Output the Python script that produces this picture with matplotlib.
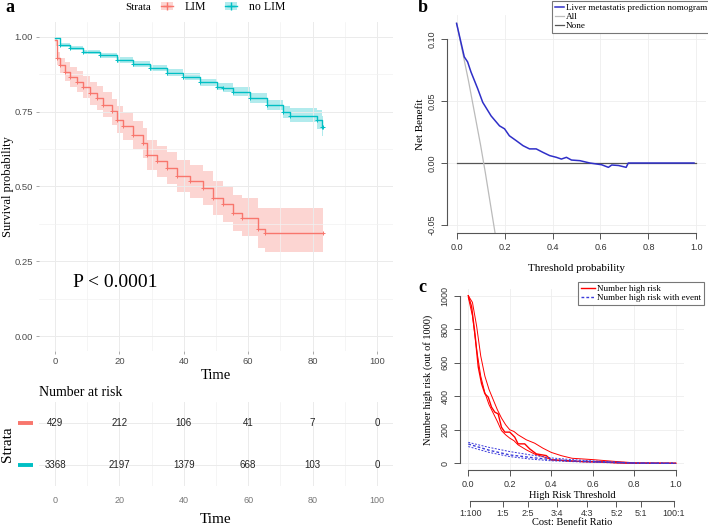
import matplotlib
matplotlib.use('Agg')
import matplotlib.pyplot as plt
from matplotlib.lines import Line2D
from matplotlib.patches import Patch

SERIF = 'Liberation Serif'
SANS = 'Liberation Sans'
RED = '#F8766D'
TEAL = '#00BFC4'

# --- panel a: Kaplan-Meier curves ---
t_lim = [0, 0.5, 1.6, 3.1, 4.7, 6.7, 8.8, 10.9, 12.9, 15, 17.6, 19.2, 21.2, 24.3, 27.4, 28.5,
         31.6, 34.7, 37.8, 41.9, 46.1, 49.2, 52.3, 55.4, 58, 63.1, 65.2, 83.3]
s_lim = [0.99, 0.93, 0.906, 0.884, 0.867, 0.851, 0.834, 0.812, 0.796, 0.773, 0.751, 0.723, 0.701,
         0.673, 0.645, 0.606, 0.584, 0.562, 0.534, 0.518, 0.495, 0.462, 0.440, 0.412, 0.395, 0.357,
         0.345, 0.345]
hi_lim = [1.0, 0.95, 0.93, 0.915, 0.9, 0.886, 0.87, 0.85, 0.836, 0.815, 0.794, 0.768, 0.747, 0.72,
          0.694, 0.657, 0.636, 0.615, 0.588, 0.573, 0.551, 0.52, 0.499, 0.472, 0.462, 0.428, 0.428,
          0.428]
lo_lim = [0.97, 0.905, 0.88, 0.852, 0.833, 0.815, 0.797, 0.773, 0.755, 0.731, 0.707, 0.678, 0.654,
          0.625, 0.596, 0.555, 0.532, 0.508, 0.48, 0.462, 0.438, 0.404, 0.381, 0.352, 0.335, 0.295,
          0.282, 0.282]

t_nolim = [0, 1.6, 4.7, 8.8, 14, 19.2, 24.3, 29.5, 34.7, 39.9, 45, 50.2, 52.3, 55.4, 60.6, 65.7,
           70.9, 73, 81.3, 82.8, 83.3]
s_nolim = [0.996, 0.973, 0.962, 0.951, 0.938, 0.923, 0.909, 0.895, 0.881, 0.867, 0.848, 0.834,
           0.831, 0.817, 0.795, 0.773, 0.748, 0.737, 0.722, 0.700, 0.700]
hi_nolim = [1.0, 0.979, 0.969, 0.958, 0.946, 0.932, 0.919, 0.905, 0.892, 0.878, 0.86, 0.847, 0.845,
            0.832, 0.811, 0.79, 0.768, 0.762, 0.755, 0.735, 0.735]
lo_nolim = [0.992, 0.967, 0.955, 0.944, 0.93, 0.914, 0.899, 0.885, 0.87, 0.856, 0.836, 0.821, 0.817,
            0.802, 0.779, 0.756, 0.728, 0.714, 0.692, 0.668, 0.668]

risk_times = [0, 20, 40, 60, 80, 100]
risk_lim = [429, 212, 106, 41, 7, 0]
risk_nolim = [3368, 2197, 1379, 668, 103, 0]

# --- panel b: decision curve ---
dca_x = [0, 0.032, 0.046, 0.06, 0.088, 0.109, 0.144, 0.179, 0.2, 0.22, 0.249, 0.277, 0.304, 0.332,
         0.36, 0.388, 0.416, 0.437, 0.458, 0.479, 0.514, 0.556, 0.605, 0.633, 0.647, 0.675, 0.707,
         0.716, 0.99]
dca_model = [0.1127, 0.0857, 0.0816, 0.0735, 0.060, 0.049, 0.038, 0.030, 0.0276, 0.022, 0.018,
             0.014, 0.0114, 0.0114, 0.0086, 0.006, 0.0046, 0.0032, 0.0046, 0.0024, 0.0019, 0.0,
             -0.0014, -0.0035, -0.0016, -0.002, -0.0035, 0.0, 0.0]
all_x = [0, 0.05, 0.1, 0.12, 0.16, 0.2]
all_nb = [0.113, 0.066, 0.0145, -0.008, -0.056, -0.11]
none_x = [0, 1]
none_nb = [0, 0]

# --- panel c: clinical impact ---
ci_x = [0, 0.016, 0.032, 0.048, 0.064, 0.08, 0.096, 0.112, 0.128, 0.144, 0.16, 0.176, 0.2, 0.224,
        0.24, 0.272, 0.296, 0.328, 0.376, 0.4, 0.472, 0.552, 0.632, 0.712, 0.79, 1.0]
hr_mid = [1000, 934, 774, 575, 475, 415, 395, 335, 305, 295, 215, 186, 186, 156, 116, 116, 86, 56,
          46, 20, 16, 10, 10, 4, 0, 0]
band_x = [0, 0.02, 0.04, 0.06, 0.08, 0.1, 0.12, 0.14, 0.16, 0.18, 0.2, 0.22, 0.24, 0.28, 0.32,
          0.36, 0.4, 0.45, 0.5, 0.6, 0.7, 0.8, 1.0]
hr_hi = [1000, 960, 820, 640, 520, 440, 380, 320, 270, 230, 200, 190, 170, 140, 120, 90, 65, 45,
         30, 22, 12, 3, 0]
hr_lo = [990, 880, 680, 520, 420, 350, 300, 250, 195, 170, 150, 135, 110, 80, 55, 40, 22, 16, 12,
         8, 3, 0, 0]
ev_x = [0, 0.1, 0.2, 0.3, 0.4, 0.5, 0.6, 0.7, 0.8, 1.0]
ev_mid = [115, 78, 50, 35, 22, 15, 10, 6, 2, 0]
ev_hi = [125, 95, 70, 50, 32, 22, 14, 8, 2, 0]
ev_lo = [100, 65, 40, 25, 15, 10, 6, 3, 0, 0]
cb_labels = ['1:100', '1:5', '2:5', '3:4', '4:3', '5:2', '5:1', '100:1']
cb_pairs = [(1, 100), (1, 5), (2, 5), (3, 4), (4, 3), (5, 2), (5, 1), (100, 1)]

W, H = 708, 526
fig = plt.figure(figsize=(W / 100, H / 100), dpi=100)


def px_axes(x0, y0, x1, y1):
    return fig.add_axes([x0 / W, 1 - y1 / H, (x1 - x0) / W, (y1 - y0) / H])


def r_style(ax):
    # base-R look: only left/bottom axis lines, outward ticks
    for s in ['top', 'right']:
        ax.spines[s].set_visible(False)
    for s in ['left', 'bottom']:
        ax.spines[s].set_color('#555555')
        ax.spines[s].set_linewidth(0.8)
    ax.tick_params(direction='out', length=4, width=0.7, color='#555555',
                   labelsize=6.5, labelcolor='#333333')
    for lab in ax.get_xticklabels() + ax.get_yticklabels():
        lab.set_fontfamily(SANS)
    ax.grid(True, color='#EEEEEE', lw=0.6)
    ax.set_axisbelow(True)


# ---------------- panel a ----------------
ax = px_axes(39, 22, 393, 351)
ax.set_xlim(-5, 105)
ax.set_ylim(-0.05, 1.05)
for s in ax.spines.values():
    s.set_visible(False)
ax.set_xticks(risk_times)
ax.set_xticks([10, 30, 50, 70, 90], minor=True)
ax.set_yticks([0, 0.25, 0.5, 0.75, 1.0])
ax.set_yticks([0.125, 0.375, 0.625, 0.875], minor=True)
ax.set_yticklabels(['0.00', '0.25', '0.50', '0.75', '1.00'])
ax.grid(True, which='major', color='#EBEBEB', lw=0.7)
ax.grid(True, which='minor', color='#F2F2F2', lw=0.5)
ax.tick_params(which='major', length=2.5, width=0.5, color='#888888', labelsize=6.8,
               labelcolor='#4D4D4D', pad=2)
ax.tick_params(which='minor', length=0)
for lab in ax.get_xticklabels() + ax.get_yticklabels():
    lab.set_fontfamily(SANS)

ax.fill_between(t_lim, lo_lim, hi_lim, step='post', color=RED, alpha=0.3, lw=0)
ax.fill_between(t_nolim, lo_nolim, hi_nolim, step='post', color=TEAL, alpha=0.3, lw=0)
ax.plot(t_lim, s_lim, drawstyle='steps-post', color=RED, lw=1.0)
ax.plot(t_nolim, s_nolim, drawstyle='steps-post', color=TEAL, lw=1.0)
ax.plot(t_lim[1:], s_lim[1:], ls='none', marker='+', ms=3, mew=0.7, color=RED)
ax.plot(t_nolim[1:], s_nolim[1:], ls='none', marker='+', ms=3, mew=0.7, color=TEAL)
ax.text(5.6, 0.18, 'P < 0.0001', fontsize=14, family=SERIF, va='center')
ax.set_xlabel('Time', family=SERIF, fontsize=10.5, labelpad=2)
ax.set_ylabel('Survival probability', family=SERIF, fontsize=9)
ax.yaxis.set_label_coords(-0.072, 0.5)

fig.text(5 / W, 1 - 8 / H, 'a', family=SERIF, fontsize=13, weight='bold', va='center')
fig.text(125 / W, 1 - 7 / H, 'Strata', family=SERIF, fontsize=8, va='center')
handles = [(Patch(facecolor=RED, alpha=0.3, lw=0), Line2D([], [], color=RED, marker='+', lw=1)),
           (Patch(facecolor=TEAL, alpha=0.3, lw=0), Line2D([], [], color=TEAL, marker='+', lw=1))]
fig.legend(handles, ['LIM', 'no LIM'], loc='center left', bbox_to_anchor=(161 / W, 1 - 7 / H),
           ncol=2, frameon=False, handlelength=1.0, handletextpad=1.0, columnspacing=1.6,
           prop={'family': SERIF, 'size': 8.5}, borderaxespad=0, borderpad=0)

# risk table
tb = px_axes(39, 402, 393, 486)
tb.set_xlim(-5, 105)
tb.set_ylim(0.5, 2.5)
for s in tb.spines.values():
    s.set_visible(False)
tb.set_xticks(risk_times)
tb.set_xticks([10, 30, 50, 70, 90], minor=True)
tb.set_yticks([1, 2])
tb.set_yticklabels([])
tb.grid(True, which='major', color='#EBEBEB', lw=0.7)
tb.grid(True, which='minor', axis='x', color='#F2F2F2', lw=0.5)
tb.tick_params(which='both', length=0, labelsize=6.5, labelcolor='#777777', pad=7)
for lab in tb.get_xticklabels():
    lab.set_fontfamily(SANS)
for t, a, b in zip(risk_times, risk_lim, risk_nolim):
    tb.text(t, 2, str(a), ha='center', va='center', fontsize=7, family=SANS, color='#222222')
    tb.text(t, 1, str(b), ha='center', va='center', fontsize=7, family=SANS, color='#222222')
tr = tb.get_yaxis_transform()
tb.plot([-0.06, -0.018], [2, 2], color=RED, lw=2.8, transform=tr, clip_on=False,
        solid_capstyle='butt')
tb.plot([-0.06, -0.018], [1, 1], color=TEAL, lw=2.8, transform=tr, clip_on=False,
        solid_capstyle='butt')
tb.set_xlabel('Time', family=SERIF, fontsize=11, labelpad=6)
tb.set_ylabel('Strata', family=SERIF, fontsize=11)
tb.yaxis.set_label_coords(-0.07, 0.5)
tb.set_title('Number at risk', loc='left', family=SERIF, fontsize=10, pad=4)

# ---------------- panel b ----------------
bx = px_axes(447, 15, 706, 233)
bx.set_xlim(-0.04, 1.04)
bx.set_ylim(-0.0565, 0.1195)
bx.set_xticks([0, 0.2, 0.4, 0.6, 0.8, 1.0])
bx.set_yticks([-0.05, 0, 0.05, 0.10])
bx.set_yticklabels(['-0.05', '0.00', '0.05', '0.10'], rotation=90, va='center')
r_style(bx)
bx.spines['left'].set_bounds(-0.05, 0.10)
bx.spines['bottom'].set_bounds(0, 1)
bx.plot(none_x, none_nb, color='#555555', lw=0.9, label='None')
bx.plot(all_x, all_nb, color='#BBBBBB', lw=0.9, label='All')
bx.plot(dca_x, dca_model, color='#2F2FC8', lw=1.1,
        label='Liver metastatis prediction nomogram')
bx.set_ylabel('Net Benefit', family=SERIF, fontsize=8)
bx.yaxis.set_label_coords(-0.085, 0.5)
bx.set_xlabel('Threshold probability', family=SERIF, fontsize=8, labelpad=8)
h, l = bx.get_legend_handles_labels()
leg = fig.legend(h[::-1], l[::-1], loc='upper left', bbox_to_anchor=(552 / W, 1 - 1 / H),
                 prop={'family': SERIF, 'size': 6.6}, fancybox=False, edgecolor='#777777',
                 framealpha=1, handlelength=1.0, handletextpad=0.2, labelspacing=0.05,
                 borderpad=0.3, borderaxespad=0)
leg.get_frame().set_linewidth(0.8)
fig.text(418 / W, 1 - 8 / H, 'b', family=SERIF, fontsize=13, weight='bold', va='center')

# ---------------- panel c ----------------
cx = px_axes(460, 289, 684, 470)
cx.set_xlim(-0.04, 1.04)
cx.set_ylim(-40, 1040)
cx.set_xticks([0, 0.2, 0.4, 0.6, 0.8, 1.0])
cx.set_yticks([0, 200, 400, 600, 800, 1000])
cx.set_yticklabels(['0', '200', '400', '600', '800', '1000'], rotation=90, va='center')
r_style(cx)
cx.spines['left'].set_bounds(0, 1000)
cx.spines['bottom'].set_bounds(0, 1)
dash = (0, (2, 1.5))
cx.plot(band_x, hr_hi, color='red', lw=0.7)
cx.plot(band_x, hr_lo, color='red', lw=0.7)
cx.plot(ci_x, hr_mid, color='red', lw=1.0, label='Number high risk')
cx.plot(ev_x, ev_hi, color='#3B3BDB', lw=0.7, ls=dash)
cx.plot(ev_x, ev_lo, color='#3B3BDB', lw=0.7, ls=dash)
cx.plot(ev_x, ev_mid, color='#3B3BDB', lw=1.0, ls=dash, label='Number high risk with event')
cx.set_ylabel('Number high risk (out of 1000)', family=SERIF, fontsize=7.5)
cx.yaxis.set_label_coords(-0.12, 0.5)
cx.set_xlabel('High Risk Threshold', family=SERIF, fontsize=7.5, labelpad=1)
leg = fig.legend(*cx.get_legend_handles_labels(), loc='upper left',
                 bbox_to_anchor=(578 / W, 1 - 282 / H), prop={'family': SERIF, 'size': 6.5},
                 fancybox=False, edgecolor='#777777', framealpha=1, handlelength=1.6,
                 handletextpad=0.2, labelspacing=0.05, borderpad=0.3, borderaxespad=0)
leg.get_frame().set_linewidth(0.8)
fig.text(418 / W, 1 - 287 / H, 'c', family=SERIF, fontsize=13, weight='bold', va='center')

# cost:benefit axis
cb = px_axes(460, 500, 684, 501)
cb.set_xlim(-0.04, 1.04)
cb.set_yticks([])
for s in ['top', 'right', 'left']:
    cb.spines[s].set_visible(False)
cb.patch.set_visible(False)
cb.spines['bottom'].set_color('#555555')
cb.spines['bottom'].set_linewidth(0.8)
cb_pos = [a / (a + b) for a, b in cb_pairs]
cb.spines['bottom'].set_bounds(cb_pos[0], cb_pos[-1])
cb.set_xticks(cb_pos)
cb.set_xticklabels(cb_labels)
cb.tick_params(direction='out', length=4, width=0.7, color='#555555', labelsize=6.5,
               labelcolor='#333333', pad=2)
for lab in cb.get_xticklabels():
    lab.set_fontfamily(SANS)
cb.set_xlabel('Cost: Benefit Ratio', family=SERIF, fontsize=7.5, labelpad=0)

fig.savefig('out.png', dpi=100)
